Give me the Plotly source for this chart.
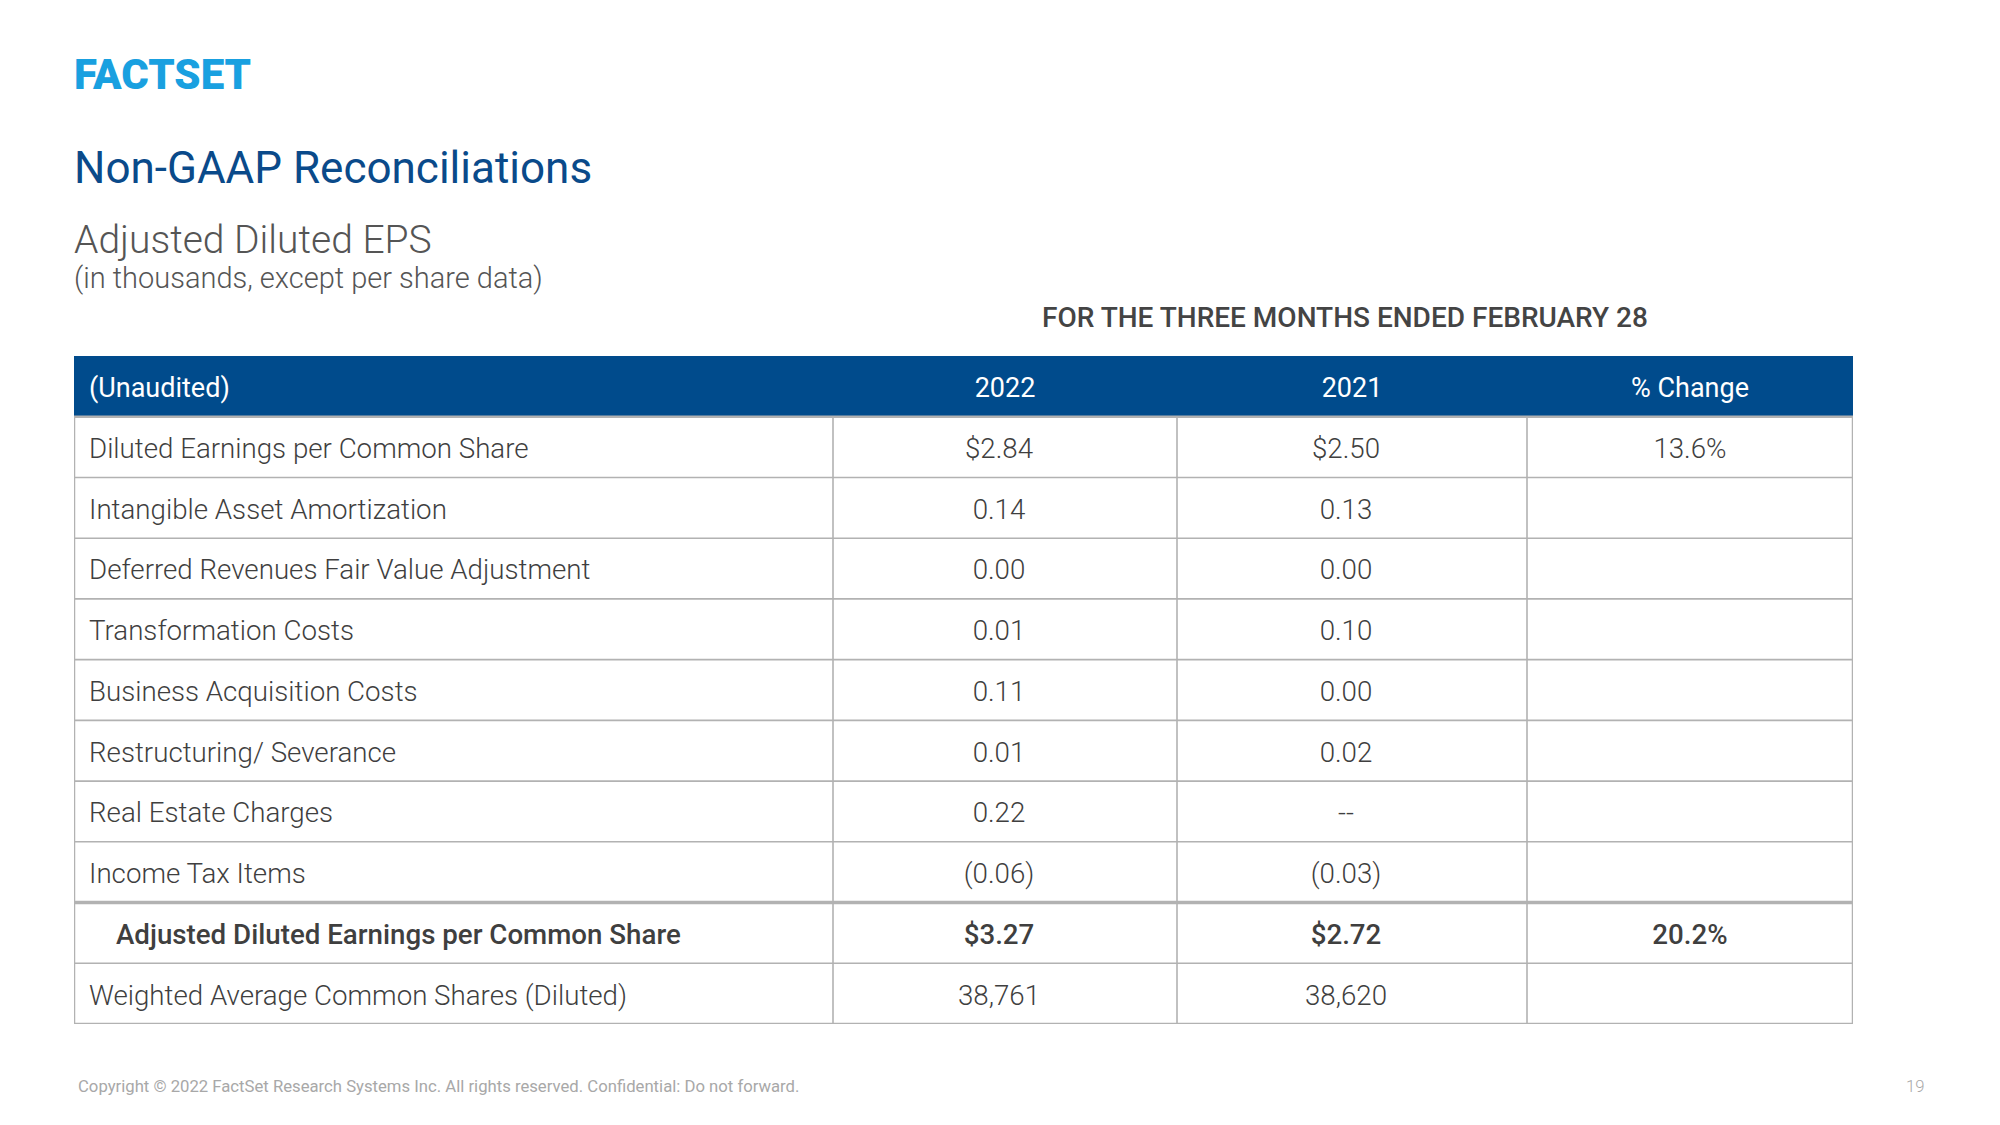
import plotly.graph_objects as go

# ---------------- data ----------------
headers = ["(Unaudited)", "2022", "2021", "% Change"]
row_labels = [
    "Diluted Earnings per Common Share",
    "Intangible Asset Amortization",
    "Deferred Revenues Fair Value Adjustment",
    "Transformation Costs",
    "Business Acquisition Costs",
    "Restructuring/ Severance",
    "Real Estate Charges",
    "Income Tax Items",
    "Adjusted Diluted Earnings per Common Share",
    "Weighted Average Common Shares (Diluted)",
]
values_2022 = ["$2.84", "0.14", "0.00", "0.01", "0.11", "0.01", "0.22", "(0.06)", "$3.27", "38,761"]
values_2021 = ["$2.50", "0.13", "0.00", "0.10", "0.00", "0.02", "--", "(0.03)", "$2.72", "38,620"]
pct_change = ["13.6%", "", "", "", "", "", "", "", "20.2%", ""]
bold_rows = [8]  # "Adjusted Diluted Earnings per Common Share"

title = "Non-GAAP Reconciliations"
subtitle = "Adjusted Diluted EPS"
note = "(in thousands, except per share data)"
period_label = "FOR THE THREE MONTHS ENDED FEBRUARY 28"
footer = "Copyright \u00a9 2022 FactSet Research Systems Inc. All rights reserved. Confidential: Do not forward."
page_no = "19"

# ---------------- layout constants ----------------
W, H = 2000, 1125
TABLE_LEFT, TABLE_RIGHT = 74, 1853
TABLE_TOP, TABLE_BOTTOM = 356, 1024
COL_EDGES = [0, 759, 1103, 1453, 1779]  # relative to table left (px)
VALUE_SHIFT = [0, -6, -6, 0]            # small horizontal nudge of body values per column
TEXT_DY = 0.065                         # vertical nudge of cell text (row units, downward)
HEADER_BLUE = "#004B8C"
TITLE_BLUE = "#0A4A8A"
LOGO_BLUE = "#19A0E0"
GRID = "#B2B2B2"
TEXT = "#3F3F3F"
FONT = "Roboto"
BODY_SIZE = 27.7

n = len(row_labels)
col_centers = [(COL_EDGES[i] + COL_EDGES[i + 1]) / 2 for i in range(len(COL_EDGES) - 1)]
rows = list(range(n))

fig = go.Figure()

# header texts
fig.add_trace(go.Scatter(
    x=[COL_EDGES[0] + 15], y=[-1 + TEXT_DY], mode="text", text=[headers[0]],
    textposition="middle right",
    textfont=dict(family=FONT, size=27, color="white"),
    hoverinfo="skip", showlegend=False,
))
fig.add_trace(go.Scatter(
    x=col_centers[1:], y=[-1 + TEXT_DY] * 3, mode="text", text=headers[1:],
    textposition="middle center",
    textfont=dict(family=FONT, size=27, color="white"),
    hoverinfo="skip", showlegend=False,
))

normal = [i for i in rows if i not in bold_rows]

# label column
fig.add_trace(go.Scatter(
    x=[COL_EDGES[0] + 15] * len(normal), y=[i + TEXT_DY for i in normal], mode="text",
    text=[row_labels[i] for i in normal], textposition="middle right",
    textfont=dict(family=FONT, size=BODY_SIZE, color=TEXT, weight=300),
    hoverinfo="skip", showlegend=False,
))
fig.add_trace(go.Scatter(
    x=[COL_EDGES[0] + 42] * len(bold_rows), y=[i + TEXT_DY for i in bold_rows], mode="text",
    text=[row_labels[i] for i in bold_rows], textposition="middle right",
    textfont=dict(family=FONT, size=BODY_SIZE, color=TEXT, weight=500),
    hoverinfo="skip", showlegend=False,
))

# value columns
for ci, vals in zip([1, 2, 3], [values_2022, values_2021, pct_change]):
    cx = col_centers[ci] + VALUE_SHIFT[ci]
    fig.add_trace(go.Scatter(
        x=[cx] * len(normal), y=[i + TEXT_DY for i in normal], mode="text",
        text=[vals[i] for i in normal], textposition="middle center",
        textfont=dict(family=FONT, size=BODY_SIZE, color=TEXT, weight=300),
        hoverinfo="skip", showlegend=False,
    ))
    fig.add_trace(go.Scatter(
        x=[cx] * len(bold_rows), y=[i + TEXT_DY for i in bold_rows], mode="text",
        text=[vals[i] for i in bold_rows], textposition="middle center",
        textfont=dict(family=FONT, size=BODY_SIZE, color=TEXT, weight=500),
        hoverinfo="skip", showlegend=False,
    ))

shapes = []
# header band
shapes.append(dict(type="rect", xref="x", yref="y", x0=COL_EDGES[0], x1=COL_EDGES[-1],
                   y0=-1.5, y1=-0.5, fillcolor=HEADER_BLUE, line=dict(width=0), layer="below"))
# horizontal rules
for k in range(1, n):
    yk = k - 0.5
    w = 3.5 if k in bold_rows else 1.6
    shapes.append(dict(type="line", xref="x", yref="y", x0=COL_EDGES[0], x1=COL_EDGES[-1],
                       y0=yk, y1=yk, line=dict(color=GRID, width=w)))
# inner vertical rules
for e in COL_EDGES[1:-1]:
    shapes.append(dict(type="line", xref="x", yref="y", x0=e, x1=e, y0=-0.5, y1=n - 0.5,
                       line=dict(color=GRID, width=1.6)))
# outer border (below header)
shapes.append(dict(type="rect", xref="x", yref="y", x0=COL_EDGES[0], x1=COL_EDGES[-1],
                   y0=-0.5, y1=n - 0.5, line=dict(color=GRID, width=2.5)))

def px(x):
    return x / W

def py(y):
    return 1 - y / H

annotations = [
    dict(text="FACTSET", x=px(72), y=py(75), xref="paper", yref="paper", xanchor="left",
         yanchor="middle", showarrow=False,
         font=dict(family=FONT, size=42, color=LOGO_BLUE, weight=900)),
    dict(text=title, x=px(72), y=py(168), xref="paper", yref="paper", xanchor="left",
         yanchor="middle", showarrow=False,
         font=dict(family=FONT, size=44, color=TITLE_BLUE)),
    dict(text=subtitle, x=px(72), y=py(240), xref="paper", yref="paper", xanchor="left",
         yanchor="middle", showarrow=False,
         font=dict(family=FONT, size=39, color="#555555", weight=300)),
    dict(text=note, x=px(72), y=py(278), xref="paper", yref="paper", xanchor="left",
         yanchor="middle", showarrow=False,
         font=dict(family=FONT, size=29, color="#555555", weight=300)),
    dict(text=period_label, x=px(1345), y=py(317), xref="paper", yref="paper", xanchor="center",
         yanchor="middle", showarrow=False,
         font=dict(family=FONT, size=28, color="#444444", weight=500)),
    dict(text=footer, x=px(76), y=py(1086), xref="paper", yref="paper", xanchor="left",
         yanchor="middle", showarrow=False,
         font=dict(family=FONT, size=16.7, color="#A8A8A8")),
    dict(text=page_no, x=px(1915), y=py(1086), xref="paper", yref="paper", xanchor="center",
         yanchor="middle", showarrow=False,
         font=dict(family=FONT, size=16.7, color="#A8A8A8", weight=300)),
]

fig.update_layout(
    width=W, height=H,
    margin=dict(l=0, r=0, t=0, b=0),
    paper_bgcolor="white", plot_bgcolor="white",
    shapes=shapes, annotations=annotations,
    showlegend=False,
    xaxis=dict(domain=[TABLE_LEFT / W, TABLE_RIGHT / W], range=[COL_EDGES[0], COL_EDGES[-1]],
               visible=False, fixedrange=True),
    yaxis=dict(domain=[1 - TABLE_BOTTOM / H, 1 - TABLE_TOP / H], range=[n - 0.5, -1.5],
               visible=False, fixedrange=True),
    hovermode=False,
)

fig.write_html(
    "out.html",
    config={"displayModeBar": False},
    post_script="document.body.style.margin='0';document.body.style.overflow='hidden';",
)
